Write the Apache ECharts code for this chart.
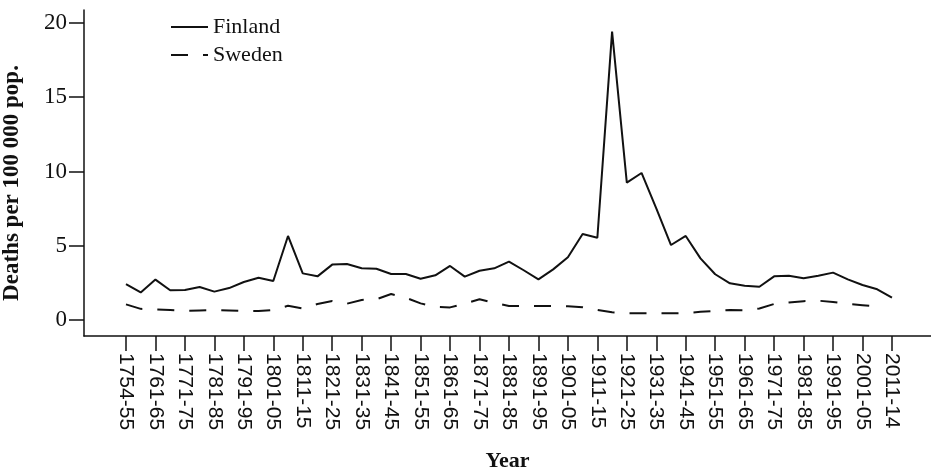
<!DOCTYPE html>
<html>
<head>
<meta charset="utf-8">
<script src="https://cdn.jsdelivr.net/npm/echarts@6/dist/echarts.min.js"></script>
<style>
html,body{margin:0;padding:0;background:#fff;}
#chart{width:931px;height:472px;}
</style>
</head>
<body>
<div id="chart"></div>
<script>
const categories = ["1754-55","1756-60","1761-65","1766-70","1771-75","1776-80","1781-85","1786-90","1791-95","1796-1800",
"1801-05","1806-10","1811-15","1816-20","1821-25","1826-30","1831-35","1836-40","1841-45","1846-50",
"1851-55","1856-60","1861-65","1866-70","1871-75","1876-80","1881-85","1886-90","1891-95","1896-1900",
"1901-05","1906-10","1911-15","1916-20","1921-25","1926-30","1931-35","1936-40","1941-45","1946-50",
"1951-55","1956-60","1961-65","1966-70","1971-75","1976-80","1981-85","1986-90","1991-95","1996-2000",
"2001-05","2006-10","2011-14"];
const finland = [2.42,1.86,2.72,2.0,2.02,2.22,1.91,2.15,2.56,2.85,
2.63,5.66,3.14,2.94,3.73,3.77,3.48,3.45,3.10,3.10,
2.78,3.01,3.64,2.92,3.32,3.48,3.93,3.35,2.74,3.41,
4.22,5.79,5.54,19.42,9.25,9.9,7.52,5.05,5.66,4.15,
3.08,2.47,2.31,2.24,2.94,2.98,2.81,2.98,3.19,2.74,
2.36,2.07,1.50];
const sweden = [1.05,0.75,0.72,0.68,0.62,0.64,0.66,0.64,0.6,0.6,
0.68,0.96,0.78,1.08,1.28,1.1,1.35,1.4,1.75,1.5,
1.12,0.88,0.85,1.1,1.4,1.15,0.95,0.94,0.94,0.94,
0.93,0.86,0.68,0.52,0.45,0.45,0.45,0.45,0.47,0.55,
0.62,0.67,0.65,0.78,1.08,1.18,1.27,1.3,1.22,1.08,
1.0,0.92,null];
const yTicks = [0,5,10,15,20];
const xTickIdx = categories.map((c,i)=>i).filter(i=>i%2===0);

const toPairs = arr => arr.map((v,i)=>[i,v]);
const ink = '#111';
const chart = echarts.init(document.getElementById('chart'));
chart.setOption({
  backgroundColor:'#fff',
  animation:false,
  grid:{left:84,right:0,top:10,bottom:136,outerBoundsMode:'none',containLabel:false},
  legend:{
    orient:'vertical', left:165, top:11, itemWidth:37, itemHeight:14, itemGap:6,
    itemStyle:{color:'rgba(0,0,0,0)',borderColor:'rgba(0,0,0,0)',borderWidth:0,opacity:0},
    textStyle:{fontFamily:'Liberation Serif',fontSize:22,color:ink,lineHeight:22},
    data:['Finland','Sweden']
  },
  xAxis:{
    type:'value', min:-2.85, max:54.65,
    splitLine:{show:false},
    axisLine:{show:true,onZero:false,lineStyle:{color:ink,width:1.5}},
    axisTick:{show:true,customValues:xTickIdx,length:15,lineStyle:{color:ink,width:1.5}},
    axisLabel:{customValues:xTickIdx,rotate:-90,margin:17,
      formatter:v=>categories[Math.round(v)],
      fontFamily:'Liberation Sans',fontSize:21,color:ink},
    name:'Year', nameLocation:'middle', nameGap:114,
    nameTextStyle:{fontFamily:'Liberation Serif',fontWeight:'bold',fontSize:22,color:ink}
  },
  yAxis:{
    type:'value', min:-1.077, max:20.875,
    splitLine:{show:false},
    axisLine:{show:true,onZero:false,lineStyle:{color:ink,width:1.5}},
    axisTick:{show:true,customValues:yTicks,length:15,lineStyle:{color:ink,width:1.5}},
    axisLabel:{customValues:yTicks,margin:17,fontFamily:'Liberation Serif',fontSize:23,color:ink},
    name:'Deaths per 100 000 pop.', nameLocation:'middle', nameGap:60,
    nameTextStyle:{fontFamily:'Liberation Serif',fontWeight:'bold',fontSize:23,color:ink,padding:[0,20,0,0]}
  },
  series:[
    {name:'Finland',type:'line',data:toPairs(finland),showSymbol:false,symbol:'none',
      lineStyle:{color:ink,width:2},itemStyle:{color:ink}},
    {name:'Sweden',type:'line',data:toPairs(sweden),showSymbol:false,symbol:'none',connectNulls:false,
      lineStyle:{color:ink,width:2,type:[17,15]},itemStyle:{color:ink}}
  ]
});
</script>
</body>
</html>
